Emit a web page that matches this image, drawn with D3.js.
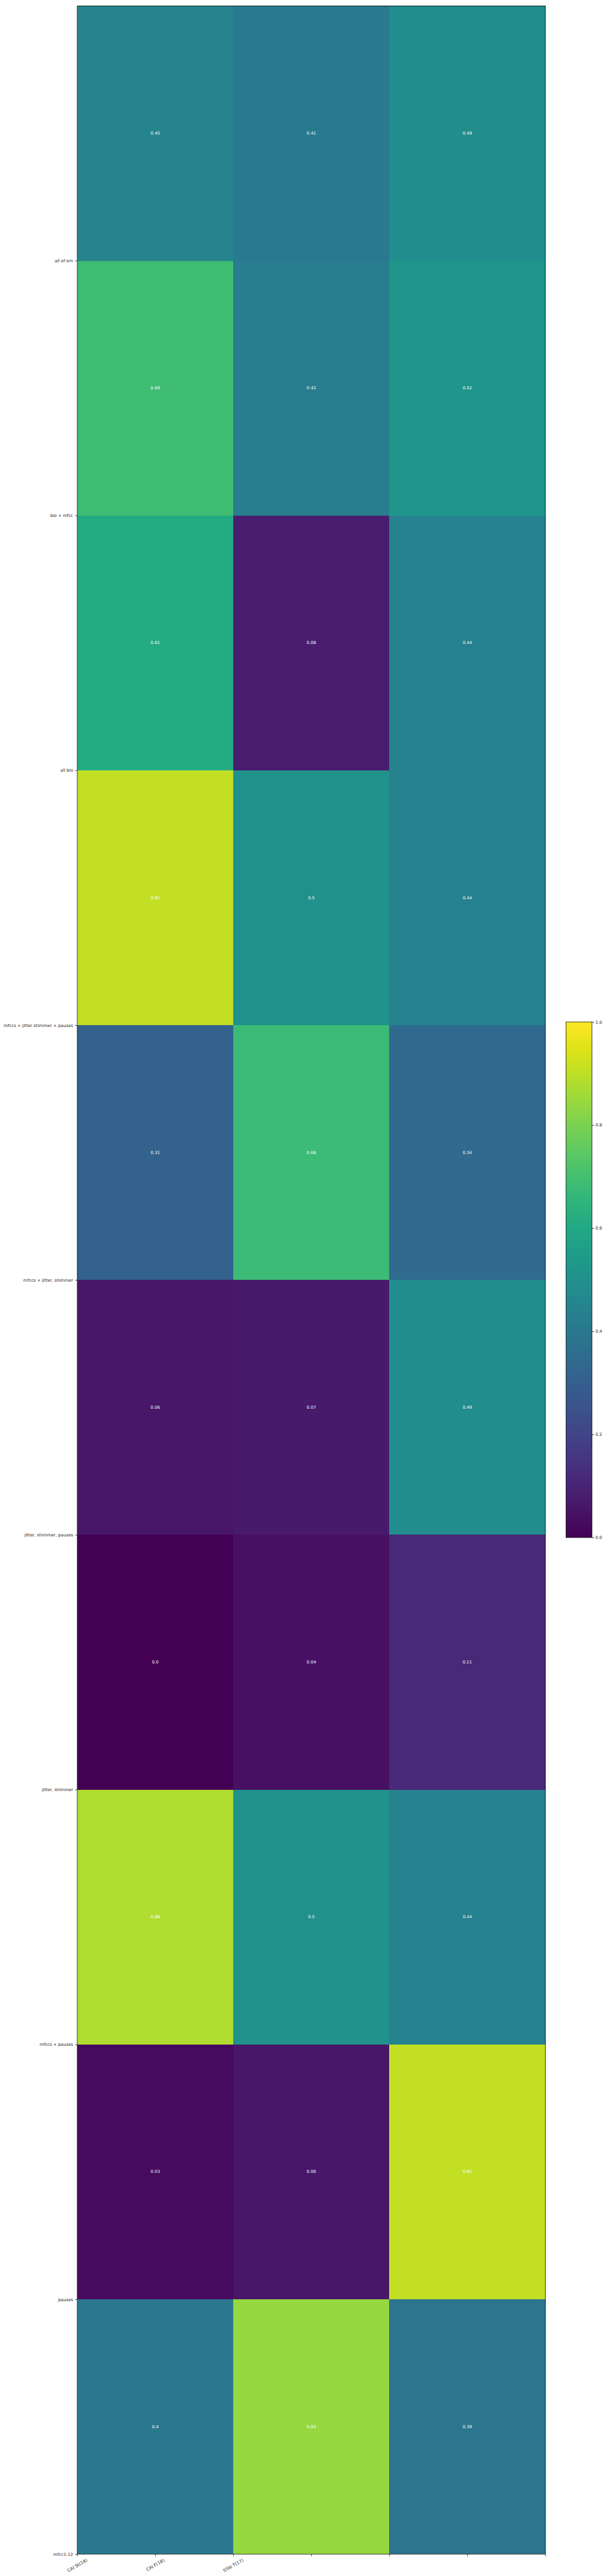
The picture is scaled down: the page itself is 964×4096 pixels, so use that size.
<!DOCTYPE html>
<html>
<head>
<meta charset="utf-8">
<script src="https://cdn.jsdelivr.net/npm/d3@7"></script>
<style>
  html, body { margin: 0; padding: 0; background: #fff; }
  svg { display: block; }
  text { font-family: "DejaVu Sans", sans-serif; }
</style>
</head>
<body>
<svg id="chart" width="964" height="4096" viewBox="0 0 1440 6120"></svg>
<script>
// ---- data ----
const xCategories = ["CAI St(19)", "CAI F(18)", "STAI T(17)"];
const rowLabels = [
  "all of em",
  "bio + mfcc",
  "all bio",
  "mfccs + jitter shimmer + pauses",
  "mfccs + jitter, shimmer",
  "jitter, shimmer, pauses",
  "jitter, shimmer",
  "mfccs + pauses",
  "pauses",
  "mfcc1-12"
];
const caiSt = [0.45, 0.69, 0.61, 0.91, 0.31, 0.06, 0.0, 0.88, 0.03, 0.4];
const caiF  = [0.41, 0.42, 0.08, 0.5, 0.68, 0.07, 0.04, 0.5, 0.06, 0.84];
const staiT = [0.49, 0.52, 0.44, 0.44, 0.34, 0.49, 0.11, 0.44, 0.91, 0.39];
const xTickValues = [0, 0.5, 1, 1.5, 2, 2.5, 3];
const yTickValues = [1, 2, 3, 4, 5, 6, 7, 8, 9, 10];
const colorbarTicks = [0, 0.2, 0.4, 0.6, 0.8, 1.0];

// ---- layout (reference pixel units; viewBox scales to window) ----
const plot = { left: 183.5, right: 1296, top: 14, bottom: 6068 };
const cbar = { left: 1345, right: 1407, top: 2428, bottom: 3653 };
const fontSize = 10;

const svg = d3.select("#chart");
svg.append("rect").attr("width", 1440).attr("height", 6120).attr("fill", "#fff");

const x = d3.scaleLinear().domain([0, 3]).range([plot.left, plot.right]);
const y = d3.scaleLinear().domain([0, 10]).range([plot.top, plot.bottom]);
const color = d3.scaleSequential(d3.interpolateViridis).domain([0, 1]);

const series = [caiSt, caiF, staiT];
const cells = [];
series.forEach((vals, ci) => vals.forEach((v, ri) => cells.push({ ci, ri, v })));

// cells
svg.append("g").selectAll("rect").data(cells).join("rect")
  .attr("x", d => x(d.ci))
  .attr("y", d => y(d.ri))
  .attr("width", d => x(d.ci + 1) - x(d.ci))
  .attr("height", d => y(d.ri + 1) - y(d.ri))
  .attr("fill", d => color(d.v))
  .attr("shape-rendering", "crispEdges");

// annotations
svg.append("g").selectAll("text").data(cells).join("text")
  .attr("x", d => x(d.ci + 0.5))
  .attr("y", d => y(d.ri + 0.5))
  .attr("text-anchor", "middle")
  .attr("dominant-baseline", "central")
  .attr("font-size", fontSize)
  .attr("fill", "#fff")
  .text(d => String(d.v === 0 ? "0.0" : +d.v.toFixed(2)));

// frame
svg.append("rect")
  .attr("x", plot.left).attr("y", plot.top)
  .attr("width", plot.right - plot.left).attr("height", plot.bottom - plot.top)
  .attr("fill", "none").attr("stroke", "#000").attr("stroke-width", 1.1);

// y axis
const yAxis = d3.axisLeft(y).tickValues(yTickValues)
  .tickFormat(v => rowLabels[v - 1]).tickSize(5).tickPadding(5);
const gy = svg.append("g").attr("transform", `translate(${plot.left},0)`).call(yAxis);
gy.select(".domain").remove();
gy.selectAll(".tick line").attr("stroke", "#000").attr("stroke-width", 1.1);
gy.selectAll(".tick text").attr("font-size", fontSize).attr("fill", "#222")
  .attr("font-family", "DejaVu Sans, sans-serif");

// x axis
const xAxis = d3.axisBottom(x).tickValues(xTickValues)
  .tickFormat(v => "").tickSize(5);
const gx = svg.append("g").attr("transform", `translate(0,${plot.bottom})`).call(xAxis);
gx.select(".domain").remove();
gx.selectAll(".tick line").attr("stroke", "#000").attr("stroke-width", 1.1);
gx.selectAll(".tick text").remove();

// rotated x labels (rotation 30, centered on tick)
const angle = 30 * Math.PI / 180;
const labelTop = plot.bottom + 5 + 3;
xTickValues.forEach((v, i) => {
  if (i >= xCategories.length) return;
  const t = svg.append("text")
    .attr("font-size", fontSize + 0.5)
    .attr("fill", "#222")
    .attr("text-anchor", "middle")
    .attr("dominant-baseline", "central")
    .text(xCategories[i]);
  const w = t.node().getComputedTextLength();
  const h = (fontSize + 0.5) * 1.17;
  const bboxH = w * Math.sin(angle) + h * Math.cos(angle);
  const cx = x(v), cy = labelTop + bboxH / 2;
  t.attr("transform", `translate(${cx},${cy}) rotate(-30)`);
});

// colorbar
const defs = svg.append("defs");
const grad = defs.append("linearGradient").attr("id", "vir")
  .attr("x1", "0").attr("y1", "1").attr("x2", "0").attr("y2", "0");
d3.range(0, 1.0001, 0.05).forEach(t => {
  grad.append("stop").attr("offset", t).attr("stop-color", d3.interpolateViridis(t));
});
svg.append("rect")
  .attr("x", cbar.left).attr("y", cbar.top)
  .attr("width", cbar.right - cbar.left).attr("height", cbar.bottom - cbar.top)
  .attr("fill", "url(#vir)")
  .attr("stroke", "#000").attr("stroke-width", 1.1);
const cy = d3.scaleLinear().domain([0, 1]).range([cbar.bottom, cbar.top]);
const cAxis = d3.axisRight(cy).tickValues(colorbarTicks)
  .tickFormat(d3.format(".1f")).tickSize(5).tickPadding(3);
const gc = svg.append("g").attr("transform", `translate(${cbar.right},0)`).call(cAxis);
gc.select(".domain").remove();
gc.selectAll(".tick line").attr("stroke", "#000").attr("stroke-width", 1.1);
gc.selectAll(".tick text").attr("font-size", fontSize).attr("fill", "#222")
  .attr("font-family", "DejaVu Sans, sans-serif");
</script>
</body>
</html>
